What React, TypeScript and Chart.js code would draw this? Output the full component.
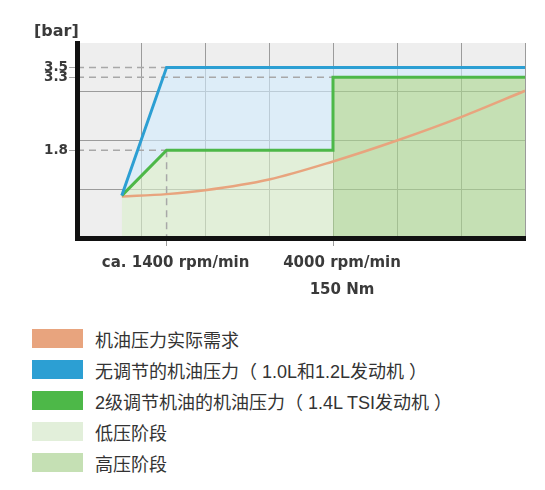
import { useEffect, useRef } from "react";
import { Chart, registerables } from "chart.js";

Chart.register(...registerables);

// engine speed (rpm) vs oil pressure (bar)
const demandRpm = [700, 1400, 2000, 3000, 4000, 5000, 6000, 7000];
const demandBar = [0.85, 0.9, 0.98, 1.2, 1.57, 2.0, 2.48, 3.02];
const fixedRpm = [700, 1400, 7000];
const fixedBar = [0.87, 3.5, 3.5];
const twoStageRpm = [700, 1400, 4000, 4000, 7000];
const twoStageBar = [0.87, 1.8, 1.8, 3.3, 3.3];
const switchRpm = 4000;

const gridRpm = [0, 1000, 2000, 3000, 4000, 5000, 6000, 7000];
const gridBar = [0, 1, 2, 3, 4];
const xTickRpm = [1400, 4000];
const xTickLabels = [["ca. 1400 rpm/min"], ["4000 rpm/min", "150 Nm"]];
const yTickBar = [1.8, 3.3, 3.5];

const legendLabels = [
  "机油压力实际需求",
  "无调节的机油压力（ 1.0L和1.2L发动机 ）",
  "2级调节机油的机油压力（ 1.4L TSI发动机 ）",
  "低压阶段",
  "高压阶段",
];

const ORANGE = "#e8a47e";
const BLUE = "#2c9fd3";
const GREEN = "#4db848";
const LOW_FILL = "rgba(218,240,203,0.6)";
const HIGH_FILL = "rgba(170,215,141,0.6)";
const BLUE_FILL = "rgba(210,236,255,0.6)";
const GRID = "#9b9b9b";
const GUIDE = "#a8a8a8";
const TEXT = "#3a3a3a";
const legendColors = [ORANGE, BLUE, GREEN, "#e2efda", "#c5e0b4"];

const plotBackground = {
  id: "plotBackground",
  beforeDraw(chart: Chart) {
    const { ctx, chartArea } = chart;
    ctx.save();
    ctx.fillStyle = "#eeeeee";
    ctx.fillRect(chartArea.left, chartArea.top, chartArea.right - chartArea.left, chartArea.bottom - chartArea.top);
    ctx.restore();
  },
};

const unitLabel = {
  id: "unitLabel",
  afterDraw(chart: Chart) {
    const { ctx, chartArea } = chart;
    ctx.save();
    ctx.font = 'bold 16px "DejaVu Sans"';
    ctx.fillStyle = TEXT;
    ctx.textBaseline = "alphabetic";
    ctx.fillText("[bar]", chartArea.left - 43, chartArea.top - 7.5);
    ctx.restore();
  },
};

export default function App() {
  const canvasRef = useRef<HTMLCanvasElement | null>(null);
  const chartRef = useRef<Chart | null>(null);

  useEffect(() => {
    if (!canvasRef.current) return;

    const pts = (xs: number[], ys: number[]) => xs.map((x, i) => ({ x, y: ys[i] }));
    const twoStage = pts(twoStageRpm, twoStageBar);
    const lowPhase = twoStage.slice(0, twoStageRpm.indexOf(switchRpm) + 1);
    const highPhase = twoStage.slice(twoStageRpm.lastIndexOf(switchRpm));

    // where each labelled pressure level is first reached
    const reach = (v: number) => {
      const i = fixedBar.indexOf(v);
      return i >= 0 ? fixedRpm[i] : twoStageRpm[twoStageBar.indexOf(v)];
    };
    const guides = yTickBar.map((v) => [
      { x: 0, y: v },
      { x: reach(v), y: v },
    ]);
    guides.push([
      { x: xTickRpm[0], y: twoStageBar[twoStageRpm.indexOf(xTickRpm[0])] },
      { x: xTickRpm[0], y: 0 },
    ]);

    const guideSets = guides.map((g) => ({
      data: g,
      borderColor: GUIDE,
      borderWidth: 1.5,
      borderDash: [7, 5],
      pointRadius: 0,
      fill: false,
      order: 5,
    }));
    const twoStageIndex = 2 + guideSets.length + 1;

    chartRef.current?.destroy();
    chartRef.current = new Chart(canvasRef.current, {
      type: "line",
      data: {
        datasets: [
          { label: legendLabels[3], data: lowPhase, borderWidth: 0, borderColor: "transparent", backgroundColor: LOW_FILL, fill: "origin", pointRadius: 0, order: 10 },
          { label: legendLabels[4], data: highPhase, borderWidth: 0, borderColor: "transparent", backgroundColor: HIGH_FILL, fill: "origin", pointRadius: 0, order: 10 },
          ...guideSets,
          {
            label: legendLabels[0],
            data: pts(demandRpm, demandBar),
            borderColor: ORANGE,
            borderWidth: 2.5,
            cubicInterpolationMode: "monotone",
            pointRadius: 0,
            fill: false,
            order: 3,
          },
          { label: legendLabels[2], data: twoStage, borderColor: GREEN, borderWidth: 3, pointRadius: 0, fill: false, order: 2 },
          {
            label: legendLabels[1],
            data: pts(fixedRpm, fixedBar),
            borderColor: BLUE,
            borderWidth: 3,
            pointRadius: 0,
            fill: { target: twoStageIndex, above: BLUE_FILL, below: BLUE_FILL },
            order: 1,
          },
        ],
      } as any,
      options: {
        responsive: true,
        maintainAspectRatio: false,
        animation: false,
        events: [],
        layout: { padding: { left: 0, top: 43, right: 20, bottom: 0 } },
        plugins: {
          legend: { display: false },
          tooltip: { enabled: false },
          filler: { drawTime: "beforeDatasetsDraw" },
        },
        scales: {
          x: {
            type: "linear",
            min: gridRpm[0],
            max: gridRpm[gridRpm.length - 1],
            afterBuildTicks: (s: any) => {
              s.ticks = [...gridRpm, ...xTickRpm.filter((v) => !gridRpm.includes(v))]
                .sort((a, b) => a - b)
                .map((value) => ({ value }));
            },
            afterFit: (s: any) => {
              s.height = 72;
            },
            grid: {
              color: (c: any) => {
                const v = c.tick?.value;
                return gridRpm.includes(v) && v > gridRpm[0] ? GRID : "transparent";
              },
              tickColor: (c: any) => (xTickRpm.includes(c.tick?.value) ? GRID : "transparent"),
              tickLength: 8,
              lineWidth: 1,
            },
            border: { color: "#111111", width: 5, z: 1 },
            ticks: {
              autoSkip: false,
              maxRotation: 0,
              padding: 4,
              labelOffset: 9,
              color: TEXT,
              font: { family: "DejaVu Sans", size: 15, weight: "bold", lineHeight: 1.8 },
              callback: (value: any) => {
                const i = xTickRpm.indexOf(Number(value));
                return i >= 0 ? xTickLabels[i] : "";
              },
            },
          },
          y: {
            type: "linear",
            min: gridBar[0],
            max: gridBar[gridBar.length - 1],
            afterBuildTicks: (s: any) => {
              s.ticks = [...gridBar, ...yTickBar].sort((a, b) => a - b).map((value) => ({ value }));
            },
            afterFit: (s: any) => {
              s.width = 77;
            },
            grid: {
              color: (c: any) => {
                const v = c.tick?.value;
                return gridBar.includes(v) && v > gridBar[0] && v < gridBar[gridBar.length - 1] ? GRID : "transparent";
              },
              tickColor: (c: any) => (yTickBar.includes(c.tick?.value) ? GUIDE : "transparent"),
              tickLength: 8,
              lineWidth: 1,
            },
            border: { color: "#111111", width: 5, z: 1 },
            ticks: {
              autoSkip: false,
              padding: 1,
              color: TEXT,
              font: { family: "DejaVu Sans", size: 13.5, weight: "bold" },
              callback: (value: any) => (yTickBar.includes(Number(value)) ? Number(value).toFixed(1) : ""),
            },
          },
        },
      },
      plugins: [plotBackground, unitLabel],
    });

    return () => {
      chartRef.current?.destroy();
      chartRef.current = null;
    };
  }, []);

  return (
    <div style={{ position: "fixed", left: 0, top: 0, width: 545, height: 490, background: "#fff" }}>
      <div style={{ position: "absolute", left: 0, top: 0, width: 545, height: 310 }}>
        <canvas ref={canvasRef} />
      </div>
      <div style={{ position: "absolute", left: 32, top: 323 }}>
        {legendLabels.map((label, i) => (
          <div key={label} style={{ display: "flex", alignItems: "center", height: 31 }}>
            <span style={{ width: 51, height: 19, background: legendColors[i], marginRight: 12, flex: "none" }} />
            <span style={{ font: '18px "Liberation Sans", "Noto Sans CJK SC"', color: "#333", whiteSpace: "nowrap" }}>{label}</span>
          </div>
        ))}
      </div>
    </div>
  );
}
